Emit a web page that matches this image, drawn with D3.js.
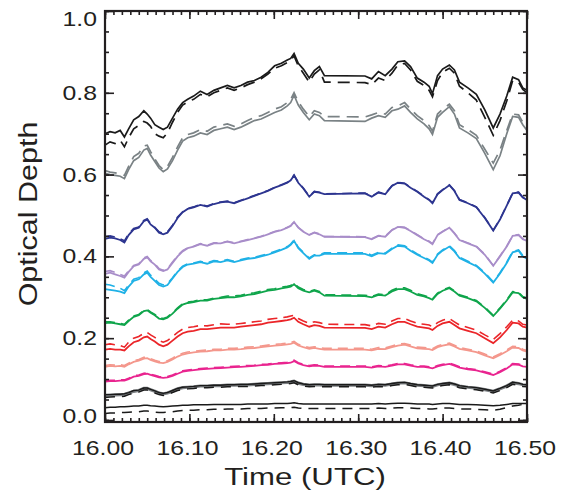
<!DOCTYPE html>
<html><head><meta charset="utf-8">
<script src="https://cdn.jsdelivr.net/npm/d3@7"></script>
<style>html,body{margin:0;padding:0;background:#fff}svg{display:block}</style>
</head><body><svg id="chart" width="564" height="497"></svg>
<script>
const TIME = [
16.000,16.006,16.012,16.018,16.023,16.028,16.034,16.040,16.046,16.050,
16.054,16.059,16.064,16.069,16.074,16.080,16.086,16.092,16.098,16.105,
16.113,16.121,16.129,16.137,16.145,16.153,16.161,16.169,16.177,16.185,
16.193,16.201,16.209,16.216,16.220,16.224,16.229,16.235,16.242,16.248,
16.254,16.260,16.308,16.316,16.324,16.332,16.340,16.347,16.355,16.362,
16.370,16.378,16.384,16.388,16.394,16.400,16.408,16.414,16.420,16.430,
16.440,16.450,16.460,16.468,16.476,16.483,16.490,16.495,16.500];

const BLACK_SOLID = [
0.700,0.705,0.702,0.708,0.692,0.712,0.734,0.742,0.756,0.748,
0.738,0.722,0.716,0.710,0.716,0.738,0.760,0.776,0.784,0.792,
0.804,0.796,0.806,0.812,0.818,0.812,0.818,0.826,0.830,0.838,
0.850,0.866,0.872,0.880,0.884,0.896,0.872,0.858,0.836,0.854,
0.864,0.842,0.841,0.834,0.852,0.842,0.858,0.876,0.878,0.864,
0.836,0.826,0.816,0.798,0.842,0.858,0.868,0.856,0.826,0.812,
0.796,0.758,0.714,0.748,0.792,0.838,0.832,0.812,0.806];
const BLACK_DASHED = [
0.672,0.680,0.676,0.684,0.668,0.690,0.712,0.720,0.730,0.726,
0.718,0.700,0.694,0.690,0.702,0.728,0.752,0.770,0.778,0.784,
0.796,0.790,0.800,0.806,0.812,0.806,0.812,0.820,0.826,0.834,
0.846,0.860,0.866,0.874,0.880,0.890,0.866,0.848,0.826,0.846,
0.856,0.826,0.825,0.820,0.836,0.830,0.848,0.868,0.872,0.856,
0.828,0.818,0.806,0.790,0.830,0.850,0.860,0.848,0.816,0.800,
0.782,0.740,0.696,0.732,0.780,0.830,0.826,0.808,0.800];
const GRAY_SOLID = [
0.603,0.600,0.598,0.596,0.590,0.612,0.634,0.642,0.660,0.664,
0.648,0.632,0.616,0.607,0.614,0.634,0.660,0.682,0.690,0.694,
0.702,0.698,0.708,0.712,0.716,0.710,0.716,0.724,0.732,0.736,
0.744,0.752,0.758,0.768,0.776,0.794,0.770,0.752,0.734,0.748,
0.744,0.732,0.730,0.738,0.744,0.740,0.756,0.760,0.768,0.752,
0.736,0.724,0.712,0.698,0.740,0.752,0.766,0.748,0.714,0.702,
0.688,0.652,0.612,0.646,0.700,0.742,0.740,0.722,0.708];
const GRAY_DASHED = [
0.610,0.606,0.604,0.602,0.598,0.620,0.644,0.652,0.670,0.672,
0.656,0.638,0.622,0.612,0.620,0.642,0.668,0.690,0.698,0.702,
0.710,0.706,0.716,0.720,0.724,0.718,0.724,0.732,0.740,0.744,
0.752,0.760,0.766,0.776,0.784,0.800,0.778,0.760,0.742,0.756,
0.752,0.742,0.741,0.746,0.752,0.748,0.764,0.768,0.776,0.760,
0.744,0.732,0.720,0.706,0.748,0.760,0.772,0.756,0.722,0.710,
0.696,0.662,0.628,0.660,0.708,0.748,0.746,0.728,0.714];
const NAVY_SOLID = [
0.443,0.446,0.444,0.440,0.434,0.452,0.466,0.470,0.486,0.490,
0.478,0.470,0.458,0.454,0.458,0.474,0.494,0.508,0.516,0.520,
0.526,0.522,0.528,0.532,0.534,0.530,0.536,0.542,0.548,0.554,
0.560,0.568,0.574,0.580,0.586,0.598,0.580,0.566,0.546,0.558,
0.556,0.552,0.554,0.546,0.556,0.552,0.572,0.580,0.578,0.568,
0.558,0.546,0.538,0.530,0.552,0.562,0.574,0.560,0.538,0.530,
0.520,0.494,0.463,0.490,0.524,0.554,0.556,0.544,0.538];
const NAVY_DASHED = [
0.448,0.450,0.447,0.443,0.438,0.455,0.468,0.472,0.488,0.492,
0.480,0.471,0.460,0.456,0.460,0.476,0.496,0.509,0.517,0.521,
0.527,0.523,0.529,0.533,0.535,0.531,0.537,0.543,0.549,0.555,
0.561,0.569,0.575,0.581,0.587,0.599,0.581,0.567,0.547,0.559,
0.557,0.553,0.555,0.547,0.557,0.553,0.573,0.581,0.579,0.569,
0.559,0.547,0.539,0.531,0.553,0.563,0.575,0.561,0.539,0.531,
0.521,0.495,0.464,0.491,0.525,0.555,0.557,0.545,0.539];
const LAVENDER_SOLID = [
0.357,0.360,0.356,0.352,0.348,0.362,0.376,0.380,0.394,0.398,
0.388,0.380,0.368,0.364,0.368,0.384,0.400,0.412,0.420,0.424,
0.430,0.426,0.432,0.432,0.436,0.432,0.436,0.440,0.444,0.448,
0.454,0.460,0.464,0.470,0.474,0.484,0.470,0.460,0.452,0.458,
0.454,0.448,0.447,0.442,0.450,0.448,0.464,0.472,0.470,0.462,
0.452,0.442,0.436,0.430,0.452,0.460,0.470,0.456,0.440,0.432,
0.424,0.404,0.377,0.400,0.424,0.450,0.452,0.442,0.438];
const LAVENDER_DASHED = [
0.363,0.365,0.361,0.356,0.352,0.365,0.378,0.382,0.396,0.400,
0.390,0.382,0.370,0.366,0.370,0.386,0.402,0.414,0.421,0.425,
0.431,0.427,0.433,0.433,0.437,0.433,0.437,0.441,0.445,0.449,
0.455,0.461,0.465,0.471,0.475,0.485,0.471,0.461,0.453,0.459,
0.455,0.449,0.448,0.443,0.451,0.449,0.465,0.473,0.471,0.463,
0.453,0.443,0.437,0.431,0.453,0.461,0.471,0.457,0.441,0.433,
0.425,0.405,0.378,0.401,0.425,0.451,0.453,0.443,0.439];
const CYAN_SOLID = [
0.320,0.318,0.316,0.314,0.310,0.326,0.340,0.344,0.356,0.360,
0.350,0.340,0.330,0.326,0.330,0.346,0.362,0.374,0.380,0.382,
0.386,0.382,0.388,0.386,0.390,0.386,0.390,0.394,0.396,0.400,
0.404,0.410,0.416,0.422,0.428,0.438,0.420,0.408,0.394,0.402,
0.402,0.406,0.406,0.400,0.408,0.406,0.418,0.426,0.424,0.414,
0.404,0.396,0.390,0.384,0.404,0.414,0.424,0.412,0.396,0.386,
0.376,0.358,0.336,0.358,0.384,0.410,0.414,0.400,0.394];
const CYAN_DASHED = [
0.332,0.330,0.326,0.322,0.316,0.330,0.344,0.348,0.360,0.364,
0.354,0.344,0.334,0.330,0.333,0.348,0.364,0.376,0.382,0.384,
0.388,0.384,0.390,0.388,0.392,0.388,0.392,0.396,0.398,0.402,
0.406,0.412,0.418,0.424,0.430,0.440,0.422,0.410,0.396,0.404,
0.404,0.409,0.409,0.403,0.410,0.408,0.420,0.428,0.426,0.416,
0.406,0.398,0.392,0.386,0.406,0.416,0.426,0.414,0.398,0.388,
0.378,0.360,0.338,0.360,0.386,0.412,0.416,0.402,0.396];
const GREEN_SOLID = [
0.237,0.238,0.236,0.234,0.232,0.242,0.252,0.256,0.266,0.268,
0.262,0.256,0.248,0.246,0.250,0.260,0.272,0.282,0.286,0.288,
0.292,0.292,0.296,0.298,0.300,0.300,0.302,0.306,0.308,0.312,
0.316,0.318,0.322,0.324,0.326,0.332,0.322,0.316,0.312,0.316,
0.312,0.304,0.303,0.300,0.306,0.304,0.314,0.320,0.320,0.314,
0.306,0.302,0.298,0.294,0.308,0.316,0.322,0.314,0.304,0.298,
0.290,0.274,0.254,0.272,0.292,0.312,0.310,0.300,0.296];
const GREEN_DASHED = [
0.240,0.240,0.238,0.236,0.234,0.244,0.254,0.258,0.268,0.270,
0.264,0.258,0.250,0.248,0.252,0.262,0.274,0.284,0.288,0.290,
0.294,0.294,0.298,0.300,0.303,0.303,0.305,0.309,0.311,0.315,
0.319,0.321,0.325,0.327,0.329,0.335,0.325,0.319,0.314,0.318,
0.314,0.306,0.305,0.302,0.308,0.306,0.317,0.323,0.323,0.317,
0.309,0.304,0.300,0.296,0.310,0.318,0.324,0.316,0.306,0.300,
0.292,0.276,0.256,0.274,0.294,0.314,0.312,0.302,0.298];
const RED_SOLID = [
0.172,0.174,0.172,0.172,0.170,0.180,0.190,0.194,0.202,0.204,
0.198,0.192,0.184,0.180,0.184,0.194,0.204,0.212,0.216,0.218,
0.222,0.222,0.224,0.226,0.226,0.226,0.228,0.230,0.232,0.234,
0.238,0.240,0.242,0.244,0.246,0.250,0.240,0.234,0.228,0.232,
0.230,0.226,0.225,0.222,0.228,0.226,0.234,0.240,0.240,0.234,
0.228,0.226,0.224,0.220,0.230,0.236,0.240,0.232,0.224,0.218,
0.212,0.200,0.188,0.202,0.220,0.238,0.236,0.228,0.226];
const RED_DASHED = [
0.184,0.186,0.184,0.182,0.178,0.190,0.200,0.204,0.212,0.214,
0.208,0.202,0.194,0.190,0.194,0.204,0.214,0.222,0.226,0.228,
0.231,0.230,0.233,0.235,0.234,0.234,0.236,0.238,0.240,0.242,
0.246,0.248,0.250,0.252,0.254,0.256,0.248,0.242,0.236,0.240,
0.238,0.234,0.233,0.230,0.236,0.234,0.242,0.248,0.248,0.242,
0.236,0.234,0.232,0.228,0.238,0.244,0.248,0.240,0.232,0.226,
0.220,0.208,0.197,0.211,0.228,0.244,0.242,0.234,0.232];
const SALMON_SOLID = [
0.130,0.132,0.131,0.132,0.130,0.136,0.142,0.145,0.150,0.151,
0.147,0.143,0.140,0.139,0.142,0.148,0.155,0.160,0.163,0.165,
0.167,0.168,0.170,0.170,0.172,0.172,0.173,0.175,0.176,0.178,
0.180,0.182,0.183,0.185,0.186,0.189,0.182,0.178,0.174,0.176,
0.174,0.172,0.172,0.170,0.174,0.173,0.178,0.182,0.184,0.180,
0.175,0.174,0.173,0.171,0.178,0.182,0.185,0.180,0.174,0.170,
0.166,0.158,0.151,0.159,0.168,0.177,0.176,0.170,0.167];
const SALMON_DASHED = [
0.133,0.135,0.134,0.135,0.133,0.139,0.145,0.148,0.153,0.154,
0.150,0.146,0.143,0.142,0.145,0.151,0.158,0.163,0.166,0.168,
0.170,0.171,0.173,0.173,0.175,0.175,0.176,0.178,0.179,0.181,
0.183,0.185,0.186,0.188,0.189,0.192,0.185,0.181,0.177,0.179,
0.177,0.175,0.175,0.173,0.177,0.176,0.181,0.185,0.187,0.183,
0.178,0.177,0.176,0.174,0.181,0.185,0.188,0.183,0.177,0.173,
0.169,0.161,0.154,0.162,0.171,0.180,0.179,0.173,0.170];
const MAGENTA_SOLID = [
0.094,0.095,0.095,0.096,0.096,0.100,0.106,0.108,0.112,0.113,
0.110,0.107,0.104,0.103,0.104,0.108,0.113,0.118,0.120,0.122,
0.124,0.125,0.126,0.127,0.128,0.129,0.130,0.131,0.132,0.134,
0.135,0.137,0.138,0.139,0.140,0.144,0.138,0.134,0.131,0.133,
0.132,0.130,0.130,0.128,0.131,0.130,0.133,0.136,0.136,0.133,
0.130,0.130,0.128,0.126,0.131,0.134,0.137,0.133,0.128,0.124,
0.121,0.116,0.110,0.117,0.126,0.136,0.135,0.131,0.130];
const MAGENTA_DASHED = [
0.096,0.097,0.097,0.098,0.098,0.102,0.108,0.110,0.114,0.115,
0.112,0.109,0.106,0.105,0.106,0.110,0.115,0.120,0.122,0.124,
0.126,0.127,0.128,0.129,0.130,0.131,0.132,0.133,0.134,0.136,
0.137,0.139,0.140,0.141,0.142,0.146,0.140,0.136,0.133,0.135,
0.134,0.132,0.132,0.130,0.133,0.132,0.135,0.138,0.138,0.135,
0.132,0.132,0.130,0.128,0.133,0.136,0.139,0.135,0.130,0.126,
0.123,0.118,0.112,0.119,0.128,0.138,0.137,0.133,0.132];
const DARK_GRAY_SOLID = [
0.060,0.061,0.061,0.062,0.062,0.066,0.070,0.072,0.077,0.077,
0.074,0.070,0.066,0.064,0.066,0.071,0.076,0.079,0.080,0.081,
0.083,0.083,0.084,0.084,0.085,0.085,0.086,0.086,0.087,0.088,
0.089,0.090,0.091,0.092,0.093,0.095,0.090,0.087,0.085,0.086,
0.086,0.085,0.085,0.084,0.086,0.085,0.088,0.090,0.091,0.088,
0.085,0.084,0.083,0.082,0.086,0.088,0.090,0.087,0.083,0.080,
0.078,0.074,0.070,0.076,0.083,0.091,0.089,0.086,0.085];
const DARK_BLACK_SOLID = [
0.062,0.062,0.063,0.063,0.064,0.067,0.072,0.073,0.078,0.078,
0.075,0.071,0.067,0.065,0.067,0.072,0.077,0.080,0.081,0.082,
0.084,0.084,0.085,0.085,0.086,0.086,0.087,0.087,0.088,0.089,
0.090,0.091,0.092,0.093,0.094,0.096,0.091,0.088,0.086,0.087,
0.087,0.086,0.086,0.085,0.087,0.086,0.089,0.091,0.092,0.089,
0.086,0.085,0.084,0.083,0.087,0.089,0.091,0.088,0.084,0.081,
0.079,0.075,0.071,0.077,0.084,0.092,0.090,0.087,0.086];
const DARK_DASHED = [
0.055,0.056,0.057,0.057,0.058,0.062,0.066,0.068,0.073,0.073,
0.070,0.066,0.062,0.060,0.062,0.067,0.072,0.075,0.076,0.077,
0.079,0.079,0.080,0.080,0.081,0.081,0.082,0.082,0.083,0.084,
0.085,0.086,0.087,0.088,0.089,0.091,0.086,0.083,0.081,0.082,
0.082,0.081,0.081,0.080,0.082,0.081,0.084,0.086,0.087,0.084,
0.081,0.080,0.079,0.078,0.082,0.084,0.086,0.083,0.079,0.076,
0.074,0.070,0.066,0.072,0.079,0.087,0.085,0.082,0.081];
const BOTTOM_SOLID = [
0.030,0.031,0.031,0.032,0.032,0.033,0.034,0.034,0.036,0.036,
0.035,0.034,0.033,0.032,0.033,0.034,0.035,0.036,0.036,0.037,
0.037,0.037,0.038,0.038,0.038,0.038,0.038,0.039,0.039,0.039,
0.039,0.040,0.040,0.040,0.041,0.042,0.040,0.039,0.039,0.039,
0.039,0.039,0.039,0.039,0.040,0.039,0.040,0.041,0.041,0.040,
0.039,0.039,0.039,0.038,0.039,0.040,0.040,0.039,0.038,0.038,
0.037,0.036,0.035,0.036,0.038,0.040,0.040,0.040,0.040];
const BOTTOM_DASHED = [
0.016,0.017,0.017,0.018,0.018,0.019,0.020,0.020,0.022,0.022,
0.021,0.019,0.018,0.018,0.019,0.020,0.022,0.023,0.024,0.024,
0.025,0.025,0.026,0.026,0.027,0.027,0.027,0.028,0.028,0.028,
0.029,0.029,0.030,0.030,0.030,0.031,0.029,0.028,0.028,0.028,
0.028,0.028,0.028,0.028,0.029,0.028,0.029,0.030,0.030,0.029,
0.028,0.028,0.027,0.027,0.028,0.029,0.029,0.028,0.027,0.027,
0.026,0.025,0.024,0.026,0.030,0.034,0.036,0.038,0.039];

const X_TICKS = [16.00, 16.10, 16.20, 16.30, 16.40, 16.50];
const X_TICK_LABELS = ["16.00","16.10","16.20","16.30","16.40","16.50"];
const Y_TICKS = [0.0, 0.2, 0.4, 0.6, 0.8, 1.0];
const Y_TICK_LABELS = ["0.0","0.2","0.4","0.6","0.8","1.0"];
const X_TITLE = "Time (UTC)";
const Y_TITLE = "Optical Depth";

// series table built from the arrays above
const SERIES = [
  {v: BOTTOM_DASHED,    c: "#1a1a1a", d: "10,7", w: 1.5},
  {v: BOTTOM_SOLID,     c: "#1a1a1a", d: null,   w: 1.5},
  {v: DARK_GRAY_SOLID,  c: "#7d8184", d: null,   w: 3.2},
  {v: DARK_DASHED,      c: "#1a1a1a", d: "10,7", w: 1.5},
  {v: DARK_BLACK_SOLID, c: "#1a1a1a", d: null,   w: 1.4},
  {v: MAGENTA_DASHED,   c: "#e9248f", d: "10,6", w: 1.6},
  {v: MAGENTA_SOLID,    c: "#e9248f", d: null,   w: 1.8},
  {v: SALMON_DASHED,    c: "#f4978c", d: "10,6", w: 1.6},
  {v: SALMON_SOLID,     c: "#f4978c", d: null,   w: 1.8},
  {v: RED_DASHED,       c: "#eb2529", d: "10,6", w: 1.6},
  {v: RED_SOLID,        c: "#eb2529", d: null,   w: 1.8},
  {v: GREEN_DASHED,     c: "#0fa54b", d: "10,6", w: 1.6},
  {v: GREEN_SOLID,      c: "#0fa54b", d: null,   w: 1.8},
  {v: CYAN_DASHED,      c: "#1fb1e6", d: "10,6", w: 1.6},
  {v: CYAN_SOLID,       c: "#1fb1e6", d: null,   w: 1.8},
  {v: LAVENDER_DASHED,  c: "#a88dc9", d: "10,6", w: 1.6},
  {v: LAVENDER_SOLID,   c: "#a88dc9", d: null,   w: 1.8},
  {v: NAVY_DASHED,      c: "#2d3590", d: "10,6", w: 1.6},
  {v: NAVY_SOLID,       c: "#2d3590", d: null,   w: 1.8},
  {v: GRAY_DASHED,      c: "#7a8285", d: "12,7", w: 1.7},
  {v: GRAY_SOLID,       c: "#7a8285", d: null,   w: 1.7},
  {v: BLACK_DASHED,     c: "#1a1a1a", d: "12,7", w: 1.7},
  {v: BLACK_SOLID,      c: "#1a1a1a", d: null,   w: 1.7}
];

const M = {left: 105, right: 527, top: 11, bottom: 422};
const svg = d3.select("#chart");
const x = d3.scaleLinear().domain([16.0, 16.5]).range([M.left, M.right]);
const y = d3.scaleLinear().domain([-0.005, 1.0]).range([M.bottom, M.top]);

const line = d3.line().x((d, i) => x(TIME[i])).y(d => y(d));
const gLines = svg.append("g");
SERIES.forEach(s => {
  gLines.append("path").datum(s.v)
    .attr("d", line)
    .attr("fill", "none")
    .attr("stroke", s.c)
    .attr("stroke-width", s.w)
    .attr("stroke-linejoin", "miter")
    .attr("stroke-dasharray", s.d);
});

// axes with inward ticks on all four sides
const tickColor = "#231f20";
function styleAxis(g) {
  g.select(".domain").remove();
  g.selectAll(".tick line").attr("stroke", tickColor).attr("stroke-width", 1.6);
  g.selectAll("text").remove();
}
const xMinor = x.ticks(50);
const yMinor = y.ticks(20).filter(v => v >= 0);
svg.append("g").attr("transform", `translate(0,${M.bottom})`)
  .call(d3.axisBottom(x).tickValues(xMinor).tickSize(-4)).call(styleAxis);
svg.append("g").attr("transform", `translate(0,${M.bottom})`)
  .call(d3.axisBottom(x).tickValues(X_TICKS).tickSize(-8)).call(styleAxis);
svg.append("g").attr("transform", `translate(0,${M.top})`)
  .call(d3.axisTop(x).tickValues(xMinor).tickSize(-4)).call(styleAxis);
svg.append("g").attr("transform", `translate(0,${M.top})`)
  .call(d3.axisTop(x).tickValues(X_TICKS).tickSize(-8)).call(styleAxis);
svg.append("g").attr("transform", `translate(${M.left},0)`)
  .call(d3.axisLeft(y).tickValues(yMinor).tickSize(-4)).call(styleAxis);
svg.append("g").attr("transform", `translate(${M.left},0)`)
  .call(d3.axisLeft(y).tickValues(Y_TICKS).tickSize(-9)).call(styleAxis);
svg.append("g").attr("transform", `translate(${M.right},0)`)
  .call(d3.axisRight(y).tickValues(yMinor).tickSize(-4)).call(styleAxis);
svg.append("g").attr("transform", `translate(${M.right},0)`)
  .call(d3.axisRight(y).tickValues(Y_TICKS).tickSize(-9)).call(styleAxis);

svg.append("rect")
  .attr("x", M.left).attr("y", M.top)
  .attr("width", M.right - M.left).attr("height", M.bottom - M.top)
  .attr("fill", "none").attr("stroke", tickColor).attr("stroke-width", 2.2);

// text (horizontally stretched Helvetica-like)
const FONT = "'Liberation Sans', Arial, Helvetica, sans-serif";
function stext(tx, ty, str, size, anchor, sx, rot) {
  svg.append("text")
    .attr("transform", `translate(${tx},${ty})${rot ? ` rotate(${rot})` : ""} scale(${sx},1)`)
    .attr("text-anchor", anchor)
    .attr("font-family", FONT)
    .attr("font-size", size)
    .attr("fill", tickColor)
    .text(str);
}
X_TICKS.forEach((t, i) => stext(x(t) - 2, 455, X_TICK_LABELS[i], 20, "middle", 1.24));
Y_TICKS.forEach((v, i) => {
  const yy = Math.min(Math.max(y(v), M.top + 8), M.bottom - 6);
  stext(97, yy + 7, Y_TICK_LABELS[i], 20, "end", 1.24);
});
stext((M.left + M.right) / 2 - 11, 485, X_TITLE, 24, "middle", 1.3);
stext(37, 214, Y_TITLE, 25, "middle", 1.22, -90);
</script>
</body></html>
